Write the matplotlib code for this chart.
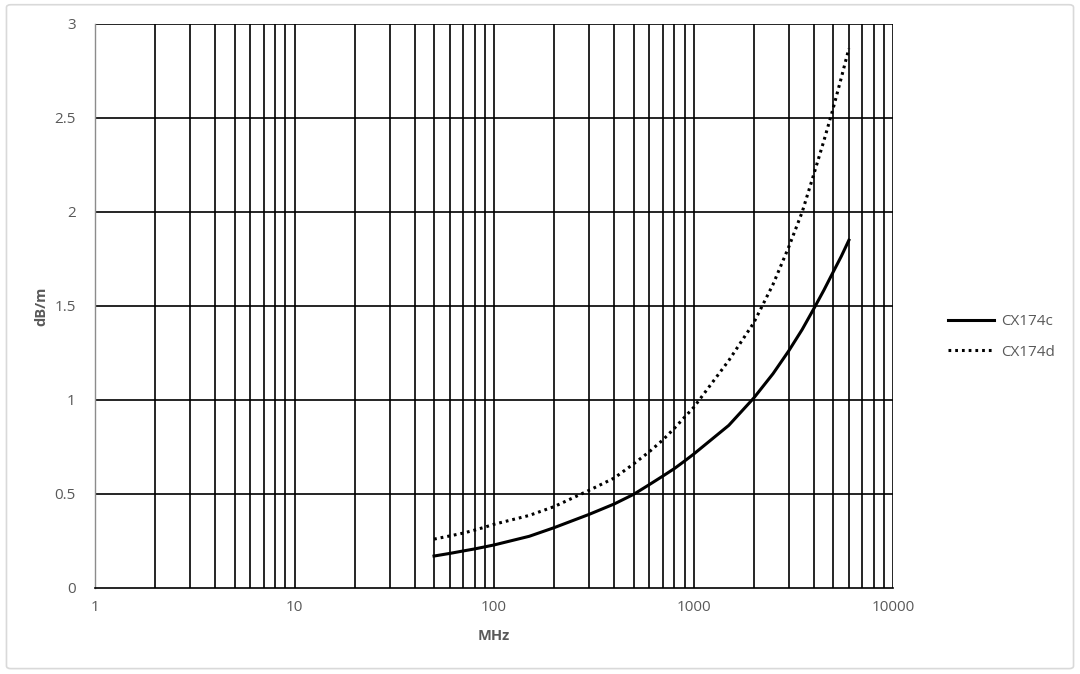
import numpy as np
import matplotlib.pyplot as plt
from matplotlib.patches import FancyBboxPatch

# values (MHz, dB/m)
freq = [50, 60, 70, 80, 90, 100, 150, 200, 300, 400, 500, 600, 700, 800, 900,
        1000, 1500, 2000, 2500, 3000, 3500, 4000, 4500, 5000, 5500, 6000]
cx174c = [0.17, 0.184, 0.197, 0.208, 0.219, 0.229, 0.275, 0.321, 0.392, 0.447, 0.498, 0.55, 0.595, 0.635, 0.675,
          0.712, 0.865, 1.01, 1.14, 1.262, 1.375, 1.485, 1.585, 1.68, 1.765, 1.85]
cx174d = [0.26, 0.277, 0.292, 0.308, 0.324, 0.339, 0.386, 0.433, 0.52, 0.585, 0.66, 0.725, 0.787, 0.849, 0.908,
          0.96, 1.21, 1.41, 1.615, 1.815, 2.0, 2.2, 2.38, 2.55, 2.715, 2.87]

yticks = [0, 0.5, 1, 1.5, 2, 2.5, 3]
ytick_labels = ['0', '0.5', '1', '1.5', '2', '2.5', '3']
xticks = [1, 10, 100, 1000, 10000]
xtick_labels = ['1', '10', '100', '1000', '10000']

txt = '#595959'
plt.rcParams['font.family'] = ['Open Sans', 'DejaVu Sans']

fig = plt.figure(figsize=(10.8, 6.74), dpi=100)
fig.patches.append(FancyBboxPatch((0.006, 0.008), 0.988, 0.985, boxstyle='round,pad=0,rounding_size=0.004',
                                  transform=fig.transFigure, fill=False, edgecolor='#d9d9d9', linewidth=1.2))

ax = fig.add_axes([0.088, 0.1276, 0.739, 0.8368])
ax.set_xscale('log')
ax.set_xlim(1, 10000)
ax.set_ylim(0, 3)

# grid: black lines for every decade step and every 0.5 dB/m
for dec in [1, 10, 100, 1000]:
    for m in range(2, 11):
        ax.axvline(dec * m, color='black', lw=1.2, zorder=1)
for y in yticks[1:]:
    ax.axhline(y, color='black', lw=1.2, zorder=1)

ax.plot(freq, cx174c, color='black', lw=2.2, label='CX174c', zorder=3, solid_joinstyle='round')
ax.plot(freq, cx174d, color='black', lw=2.2, linestyle=(0, (0.9, 1.3)), label='CX174d', zorder=3)

ax.set_yticks(yticks)
ax.set_yticklabels(ytick_labels)
ax.set_xticks(xticks)
ax.set_xticklabels(xtick_labels)
ax.xaxis.set_minor_locator(plt.NullLocator())
ax.tick_params(length=0, colors=txt, labelsize=11, pad=9)
ax.tick_params(axis='y', pad=14)

for s in ['top', 'right']:
    ax.spines[s].set_visible(False)
ax.spines['left'].set_color('#8c8c8c')
ax.spines['left'].set_linewidth(1.0)
ax.spines['bottom'].set_color('black')
ax.spines['bottom'].set_linewidth(1.2)

ax.set_xlabel('MHz', color=txt, fontsize=10.5, fontweight='bold', labelpad=10)
ax.set_ylabel('dB/m', color=txt, fontsize=10.5, fontweight='bold', labelpad=4)

fig.legend(loc='center left', bbox_to_anchor=(0.865, 0.5), frameon=False, fontsize=11,
           labelcolor=txt, handlelength=3.0, handletextpad=0.5, labelspacing=1.0)

fig.savefig('out.png', dpi=100, facecolor='white')
